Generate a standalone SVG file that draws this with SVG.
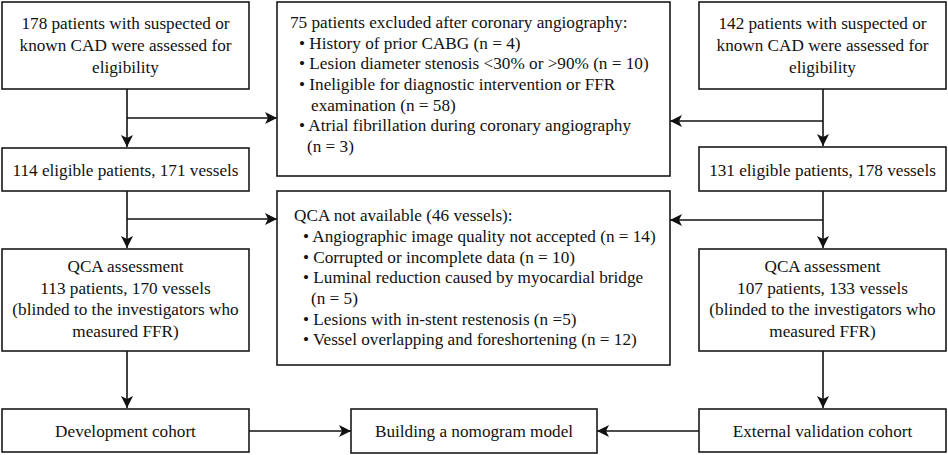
<svg xmlns="http://www.w3.org/2000/svg" width="948" height="455" viewBox="0 0 948 455">
<defs>
<marker id="ah" markerWidth="14" markerHeight="12" refX="12" refY="6" orient="auto" markerUnits="userSpaceOnUse">
<path d="M0,0 L12,6 L0,12 L3,6 Z" fill="#111"/>
</marker>
</defs>
<rect width="948" height="455" fill="#fff"/>
<g id="connectors" fill="none" stroke="#111" stroke-width="1.6">
<path d="M127,89 V147" marker-end="url(#ah)"/>
<path d="M127,118 H277" marker-end="url(#ah)"/>
<path d="M127,191 V248" marker-end="url(#ah)"/>
<path d="M127,219 H277" marker-end="url(#ah)"/>
<path d="M127,351 V408" marker-end="url(#ah)"/>
<path d="M249,431 H351" marker-end="url(#ah)"/>
<path d="M823,89 V146" marker-end="url(#ah)"/>
<path d="M823,121 H670" marker-end="url(#ah)"/>
<path d="M823,191 V248" marker-end="url(#ah)"/>
<path d="M823,220 H670" marker-end="url(#ah)"/>
<path d="M823,351 V408" marker-end="url(#ah)"/>
<path d="M699,431 H597" marker-end="url(#ah)"/>
</g>
<g id="n1">
<rect x="2" y="2" width="247" height="87" fill="#fff" stroke="#1a1a1a" stroke-width="1.6"/>
<text font-family="Liberation Serif" font-size="17.2" fill="#111" text-anchor="middle" x="125.5" y="29">178 patients with suspected or</text>
<text font-family="Liberation Serif" font-size="17.2" fill="#111" text-anchor="middle" x="125.5" y="51">known CAD were assessed for</text>
<text font-family="Liberation Serif" font-size="17.2" fill="#111" text-anchor="middle" x="125.5" y="73">eligibility</text>
</g>
<g id="n2">
<rect x="2" y="148" width="247" height="43" fill="#fff" stroke="#1a1a1a" stroke-width="1.6"/>
<text font-family="Liberation Serif" font-size="17.2" fill="#111" text-anchor="middle" x="125.5" y="176">114 eligible patients, 171 vessels</text>
</g>
<g id="n3">
<rect x="2" y="249" width="247" height="102" fill="#fff" stroke="#1a1a1a" stroke-width="1.6"/>
<text font-family="Liberation Serif" font-size="17.2" fill="#111" text-anchor="middle" x="125.5" y="272">QCA assessment</text>
<text font-family="Liberation Serif" font-size="17.2" fill="#111" text-anchor="middle" x="125.5" y="293.5">113 patients, 170 vessels</text>
<text font-family="Liberation Serif" font-size="17.2" fill="#111" text-anchor="middle" x="125.5" y="315">(blinded to the investigators who</text>
<text font-family="Liberation Serif" font-size="17.2" fill="#111" text-anchor="middle" x="125.5" y="336.5">measured FFR)</text>
</g>
<g id="n4">
<rect x="2" y="409" width="247" height="43" fill="#fff" stroke="#1a1a1a" stroke-width="1.6"/>
<text font-family="Liberation Serif" font-size="17.2" fill="#111" text-anchor="middle" x="125.5" y="437">Development cohort</text>
</g>
<g id="n5">
<rect x="277" y="2" width="393" height="174" fill="#fff" stroke="#1a1a1a" stroke-width="1.6"/>
<text font-family="Liberation Serif" font-size="17.2" fill="#111" x="290" y="28">75 patients excluded after coronary angiography:</text>
<text font-family="Liberation Serif" font-size="17.2" fill="#111" x="299" y="48.5">• History of prior CABG (n = 4)</text>
<text font-family="Liberation Serif" font-size="17.2" fill="#111" x="299" y="69">• Lesion diameter stenosis &lt;30% or &gt;90% (n = 10)</text>
<text font-family="Liberation Serif" font-size="17.2" fill="#111" x="299" y="90">• Ineligible for diagnostic intervention or FFR</text>
<text font-family="Liberation Serif" font-size="17.2" fill="#111" x="311" y="110.5">examination (n = 58)</text>
<text font-family="Liberation Serif" font-size="17.2" fill="#111" x="299" y="131">• Atrial fibrillation during coronary angiography</text>
<text font-family="Liberation Serif" font-size="17.2" fill="#111" x="307" y="152">(n = 3)</text>
</g>
<g id="n6">
<rect x="277" y="191" width="393" height="174" fill="#fff" stroke="#1a1a1a" stroke-width="1.6"/>
<text font-family="Liberation Serif" font-size="17.2" fill="#111" x="294" y="221">QCA not available (46 vessels):</text>
<text font-family="Liberation Serif" font-size="17.2" fill="#111" x="303" y="242">• Angiographic image quality not accepted (n = 14)</text>
<text font-family="Liberation Serif" font-size="17.2" fill="#111" x="303" y="262.5">• Corrupted or incomplete data (n = 10)</text>
<text font-family="Liberation Serif" font-size="17.2" fill="#111" x="303" y="283">• Luminal reduction caused by myocardial bridge</text>
<text font-family="Liberation Serif" font-size="17.2" fill="#111" x="311" y="304">(n = 5)</text>
<text font-family="Liberation Serif" font-size="17.2" fill="#111" x="303" y="324.5">• Lesions with in-stent restenosis (n =5)</text>
<text font-family="Liberation Serif" font-size="17.2" fill="#111" x="303" y="345">• Vessel overlapping and foreshortening (n = 12)</text>
</g>
<g id="n7">
<rect x="351" y="409" width="246" height="44" fill="#fff" stroke="#1a1a1a" stroke-width="1.6"/>
<text font-family="Liberation Serif" font-size="17.2" fill="#111" text-anchor="middle" x="474" y="437">Building a nomogram model</text>
</g>
<g id="n8">
<rect x="699" y="2" width="247" height="87" fill="#fff" stroke="#1a1a1a" stroke-width="1.6"/>
<text font-family="Liberation Serif" font-size="17.2" fill="#111" text-anchor="middle" x="822.5" y="29">142 patients with suspected or</text>
<text font-family="Liberation Serif" font-size="17.2" fill="#111" text-anchor="middle" x="822.5" y="51">known CAD were assessed for</text>
<text font-family="Liberation Serif" font-size="17.2" fill="#111" text-anchor="middle" x="822.5" y="73">eligibility</text>
</g>
<g id="n9">
<rect x="699" y="147" width="247" height="44" fill="#fff" stroke="#1a1a1a" stroke-width="1.6"/>
<text font-family="Liberation Serif" font-size="17.2" fill="#111" text-anchor="middle" x="822.5" y="176">131 eligible patients, 178 vessels</text>
</g>
<g id="n10">
<rect x="699" y="249" width="247" height="102" fill="#fff" stroke="#1a1a1a" stroke-width="1.6"/>
<text font-family="Liberation Serif" font-size="17.2" fill="#111" text-anchor="middle" x="822.5" y="272">QCA assessment</text>
<text font-family="Liberation Serif" font-size="17.2" fill="#111" text-anchor="middle" x="822.5" y="293.5">107 patients, 133 vessels</text>
<text font-family="Liberation Serif" font-size="17.2" fill="#111" text-anchor="middle" x="822.5" y="315">(blinded to the investigators who</text>
<text font-family="Liberation Serif" font-size="17.2" fill="#111" text-anchor="middle" x="822.5" y="336.5">measured FFR)</text>
</g>
<g id="n11">
<rect x="699" y="409" width="247" height="43" fill="#fff" stroke="#1a1a1a" stroke-width="1.6"/>
<text font-family="Liberation Serif" font-size="17.2" fill="#111" text-anchor="middle" x="822.5" y="437">External validation cohort</text>
</g>
</svg>
